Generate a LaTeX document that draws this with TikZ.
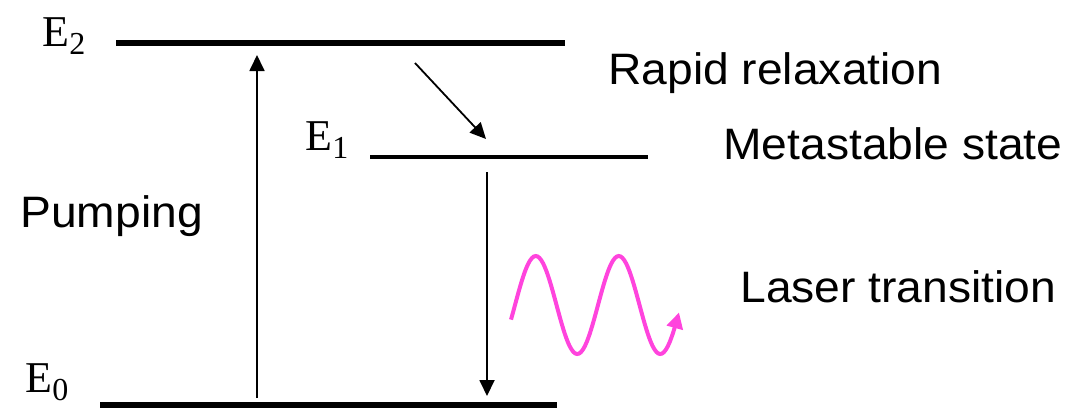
\documentclass[tikz,border=0pt]{standalone}
\usepackage{fontspec}
\setmainfont{Liberation Serif}
\setsansfont{Liberation Sans}[FakeStretch=1.05]
\usetikzlibrary{arrows.meta,positioning}
\definecolor{Wc}{HTML}{FF44DD}
\tikzset{
  lvl/.style={line width=3pt},
  lvlthin/.style={line width=1.6pt},
  trans/.style={-{Triangle[length=8pt,width=7.5pt]}, line width=0.9pt},
  Elab/.style={font=\fontsize{22}{22}\selectfont, inner sep=0pt, anchor=base west},
  txt/.style={font=\sffamily\fontsize{22}{24}\selectfont, inner sep=0pt, anchor=base west},
  wave/.style={Wc, line width=2pt, -{Triangle[length=8pt,width=8pt]}},
}
\newcommand{\Elvl}[1]{E\raisebox{-0.2em}{\fontsize{16}{16}\selectfont #1}}

\begin{document}
\begin{tikzpicture}[x=0.5pt, y=-0.5pt]
  \useasboundingbox (0,0) rectangle (1068,408);
  % energy levels
  \coordinate (E2l) at (116,43);  \coordinate (E2r) at (565,43);
  \coordinate (E1l) at (370,157); \coordinate (E1r) at (648,157);
  \coordinate (E0l) at (100,405); \coordinate (E0r) at (557,405);
  \draw[lvl] (E2l) -- (E2r);
  \draw[lvlthin] (E1l) -- (E1r);
  \draw[lvl] (E0l) -- (E0r);
  \node[Elab] (E2) at (42,46) {\Elvl{2}};
  \node[Elab] (E1) at (305,150) {\Elvl{1}};
  \node[Elab] (E0) at (25,392) {\Elvl{0}};
  % transitions
  \coordinate (pumpS) at (257,398); \coordinate (pumpE) at (257,55);
  \coordinate (relS) at (415,63);   \coordinate (relE) at (486,139);
  \coordinate (lasS) at (487,172);  \coordinate (lasE) at (487,396);
  \draw[trans] (pumpS) -- (pumpE);
  \draw[trans] (relS) -- (relE);
  \draw[trans] (lasS) -- (lasE);
  \draw[wave] plot[domain=511:679, samples=90, smooth] (\x, {305 - 49*sin(4.3373*(\x-515))});
  % captions
  \node[txt] (rapid) at (608,84) {Rapid relaxation};
  \node[txt] (meta) at (723,159) {Metastable state};
  \node[txt] (laser) at (740,302) {Laser transition};
  \node[txt] (pump) at (20,227) {Pumping};
\end{tikzpicture}
\end{document}
